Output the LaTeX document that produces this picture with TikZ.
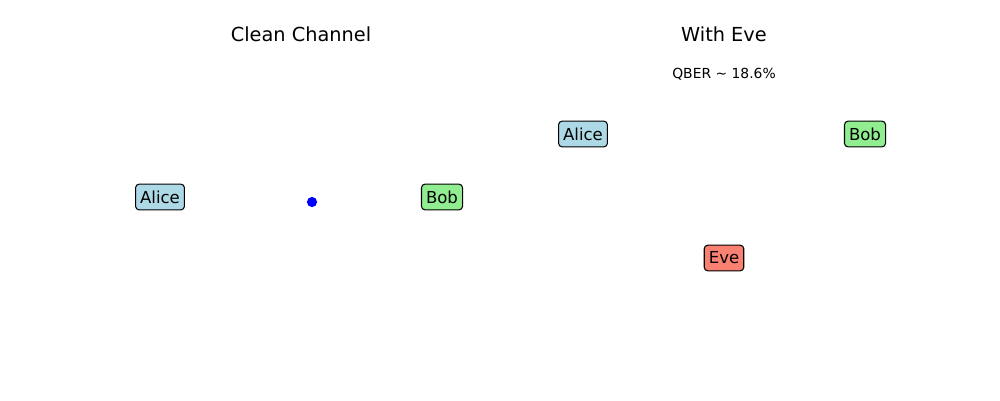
\documentclass[tikz,border=0pt]{standalone}
\usepackage{fontspec}
\setmainfont{DejaVu Sans}
\usepackage{tikz}
\usetikzlibrary{positioning}
\usepackage{xcolor}
\definecolor{alicefill}{HTML}{ADD8E6}
\definecolor{bobfill}{HTML}{90EE90}
\definecolor{evefill}{HTML}{FA8072}

\begin{document}
\begin{tikzpicture}[
  x=0.02cm, y=-0.02cm,
  title/.style={font=\fontsize{11}{13}\selectfont},
  note/.style={font=\fontsize{7.9}{9.5}\selectfont},
  party/.style={draw=black,line width=0.6pt,rounded corners=2pt,
                inner xsep=2.6pt,minimum height=14.6pt,
                font=\fontsize{9.4}{11}\selectfont},
  photon/.style={circle,fill=blue,inner sep=0pt,minimum size=5.8pt}
]
\useasboundingbox (0,0) rectangle (1000,400);
% clean channel
\node[title] (cleantitle) at (301,34) {Clean Channel};
\node[party,fill=alicefill] (alice1) at (160,197) {Alice};
\node[party,fill=bobfill] (bob1) at (442,197) {Bob};
\node[photon] (pulse) at (312,202) {};
% with eve
\node[title] (evetitle) at (724,34) {With Eve};
\node[note] (qber) at (724,74) {QBER \textasciitilde{} 18.6\%};
\node[party,fill=alicefill] (alice2) at (583,134) {Alice};
\node[party,fill=bobfill] (bob2) at (865,134) {Bob};
\node[party,fill=evefill] (eve) at (724,258) {Eve};
\end{tikzpicture}
\end{document}
